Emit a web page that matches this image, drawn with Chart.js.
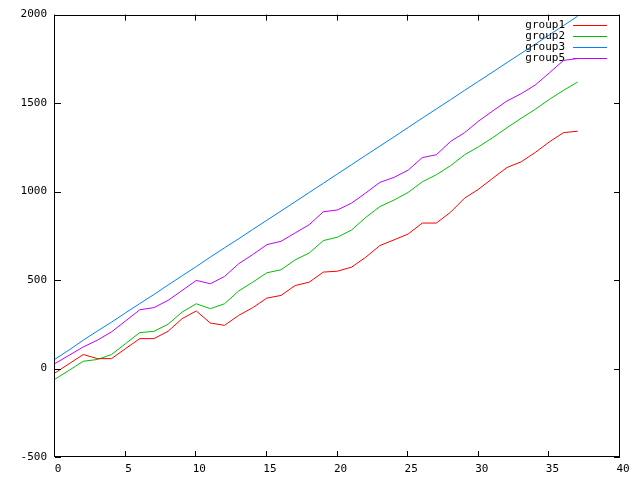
<!DOCTYPE html>
<html>
<head>
<meta charset="utf-8">
<script src="https://cdn.jsdelivr.net/npm/chart.js@4/dist/chart.umd.min.js"></script>
<style>
  html, body { margin: 0; padding: 0; background: #ffffff; }
  #c { display: block; }
</style>
</head>
<body>
<canvas id="c" width="640" height="480"></canvas>
<script>
const xValues = [0,1,2,3,4,5,6,7,8,9,10,11,12,13,14,15,16,17,18,19,20,21,22,23,24,25,26,27,28,29,30,31,32,33,34,35,36,37];
const seriesNames = ["group1", "group2", "group3", "group5"];
const group1 = [-25,27,79,56,56,113,169,169,210,282,325,257,244,300,344,398,413,469,488,545,550,573,629,695,727,760,822,822,883,963,1014,1076,1136,1168,1221,1281,1333,1341];
const group2 = [-60,-10,41,51,79,141,203,210,250,319,366,338,366,438,488,541,558,614,653,723,742,783,854,915,952,995,1055,1095,1146,1208,1254,1305,1361,1414,1465,1521,1572,1619];
const group3 = [53,105,160,212,262,315,367,418,472,524,576,630,682,733,786,838,890,942,995,1047,1100,1152,1205,1257,1309,1362,1415,1467,1519,1572,1624,1676,1729,1781,1833,1886,1938,1991];
const group5 = [28,75,122,160,207,269,332,344,385,441,498,479,520,592,644,700,719,766,813,886,896,935,992,1052,1080,1121,1192,1208,1283,1333,1399,1456,1512,1553,1602,1671,1741,1752];
const xTicks = [0,5,10,15,20,25,30,35,40];
const yTicks = [-500,0,500,1000,1500,2000];

const seriesValues = [group1, group2, group3, group5];
const colors = ["#ff0000", "#00c000", "#0080ff", "#c000ff"];
const FONT = "'DejaVu Sans Mono', monospace";

const datasets = seriesNames.map((name, i) => ({
  label: name,
  data: xValues.map((x, j) => ({ x: x, y: seriesValues[i][j] })),
  borderColor: colors[i],
  backgroundColor: colors[i],
  borderWidth: 1,
  pointRadius: 0,
  tension: 0,
  fill: false
}));

const framePlugin = {
  id: 'frame',
  afterDraw(chart) {
    const ctx = chart.ctx;
    const a = chart.chartArea;
    const xs = chart.scales.x, ys = chart.scales.y;
    ctx.save();
    ctx.strokeStyle = '#000000';
    ctx.lineWidth = 1;
    ctx.beginPath();
    ctx.rect(Math.round(a.left) - 0.5, Math.round(a.top) + 0.5, Math.round(a.right - a.left), Math.round(a.bottom - a.top) - 1);
    ctx.stroke();
    const tl = 6;
    ctx.beginPath();
    xTicks.forEach(v => {
      const px = Math.round(xs.getPixelForValue(v)) - 0.5;
      ctx.moveTo(px, a.bottom); ctx.lineTo(px, a.bottom - tl);
      ctx.moveTo(px, a.top); ctx.lineTo(px, a.top + tl);
    });
    yTicks.forEach(v => {
      const py = Math.round(ys.getPixelForValue(v)) + 0.5;
      ctx.moveTo(a.left, py); ctx.lineTo(a.left + tl, py);
      ctx.moveTo(a.right, py); ctx.lineTo(a.right - tl, py);
    });
    ctx.stroke();

    // legend (gnuplot style: text right-aligned, sample line on the right)
    ctx.font = "11px " + FONT;
    ctx.textAlign = 'right';
    ctx.textBaseline = 'middle';
    chart.data.datasets.forEach((ds, i) => {
      const y = a.top + 10.5 + i * 11;
      ctx.fillStyle = '#000000';
      ctx.fillText(ds.label, a.right - 55, y);
      ctx.fillStyle = ds.borderColor;
      ctx.fillRect(a.right - 47, Math.round(y), 34, 1);
    });
    ctx.restore();
  }
};

new Chart(document.getElementById('c'), {
  type: 'line',
  data: { datasets: datasets },
  options: {
    responsive: false,
    animation: false,
    devicePixelRatio: 1,
    layout: { padding: { top: 13, right: 20, left: 0, bottom: 0 } },
    plugins: { legend: { display: false }, tooltip: { enabled: false } },
    scales: {
      x: {
        type: 'linear',
        min: 0, max: 40,
        afterFit(s) { s.height = 23; },
        afterBuildTicks(s) { s.ticks = xTicks.map(v => ({ value: v })); },
        grid: { display: false, drawTicks: false },
        border: { display: false },
        ticks: { color: '#000000', font: { family: FONT, size: 11 }, padding: 6, labelOffset: 3, maxRotation: 0, autoSkip: false, callback: v => String(v) }
      },
      y: {
        type: 'linear',
        min: -500, max: 2000,
        afterFit(s) { s.width = 55; },
        afterBuildTicks(s) { s.ticks = yTicks.map(v => ({ value: v })); },
        grid: { display: false, drawTicks: false },
        border: { display: false },
        ticks: { color: '#000000', font: { family: FONT, size: 11 }, padding: 8, autoSkip: false, callback: v => String(v) }
      }
    }
  },
  plugins: [framePlugin]
});
</script>
</body>
</html>
